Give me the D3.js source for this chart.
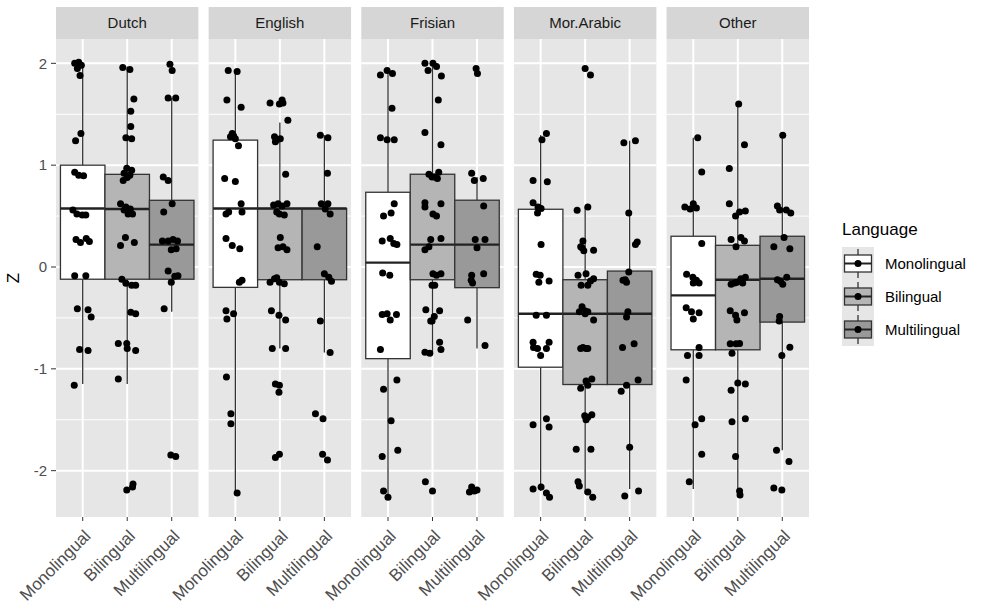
<!DOCTYPE html>
<html>
<head>
<meta charset="utf-8">
<script src="https://cdn.jsdelivr.net/npm/d3@7"></script>
<style>
  html, body { margin: 0; padding: 0; background: #fff; }
  svg { display: block; font-family: Arial, "Liberation Sans", sans-serif; }
</style>
</head>
<body>
<svg id="chart" width="985" height="605"></svg>
<script>
// ---------- DATA ----------
const languages = ["Dutch", "English", "Frisian", "Mor.Arabic", "Other"];
const groups = ["Monolingual", "Bilingual", "Multilingual"];
const groupFills = ["#ffffff", "#b5b5b5", "#999999"];
const yTicks = [-2, -1, 0, 1, 2];
const yMinor = [-1.5, -0.5, 0.5, 1.5];

// box statistics per language (rows) and group (columns)
const boxLow    = [[-1.15, -1.15, -0.44], [-2.22, -0.80, -0.84], [-2.23, -0.84, -0.80], [-2.20, -2.23, -2.18], [-2.18, -2.22, -1.80]];
const boxQ1     = [[-0.12, -0.12, -0.12], [-0.20, -0.125, -0.125], [-0.90, -0.125, -0.203], [-0.984, -1.154, -1.154], [-0.813, -0.813, -0.541]];
const boxMedian = [[0.575, 0.57, 0.22], [0.574, 0.574, 0.574], [0.043, 0.22, 0.22], [-0.459, -0.459, -0.459], [-0.279, -0.125, -0.115]];
const boxQ3     = [[1.0, 0.91, 0.655], [1.246, 0.574, 0.574], [0.734, 0.911, 0.656], [0.567, -0.125, -0.04], [0.302, 0.213, 0.302]];
const boxHigh   = [[2.0, 1.97, 1.66], [1.93, 1.42, 1.295], [1.94, 2.0, 0.885], [1.295, 0.59, 1.24], [1.27, 1.6, 1.295]];

// observed points: [Z, jitter offset in category units]
const pointsDutch = [
  [[2.0,-0.18],[2.01,-0.09],[1.98,-0.03],[1.95,-0.12],[1.88,-0.06],[1.31,-0.04],[1.24,-0.16],[0.93,-0.18],[0.90,-0.09],[0.895,0.02],
   [0.56,-0.22],[0.52,-0.13],[0.51,-0.01],[0.51,0.07],[0.27,-0.15],[0.24,-0.05],[0.28,0.08],[0.25,0.15],[-0.085,-0.18],[-0.085,0.07],
   [-0.41,-0.12],[-0.42,0.12],[-0.49,0.19],[-0.81,-0.07],[-0.82,0.12],[-1.16,-0.19]],
  [[1.96,-0.10],[1.94,0.06],[1.65,0.15],[1.53,0.08],[1.38,0.08],[1.27,-0.03],[1.26,0.10],[0.97,-0.01],[0.95,0.10],[0.92,-0.07],
   [0.90,0.06],[0.88,0.0],[0.85,-0.09],[0.62,-0.15],[0.59,-0.03],[0.57,0.07],[0.56,-0.07],[0.52,0.02],[0.52,0.12],[0.21,-0.15],
   [0.29,-0.04],[0.24,0.16],[-0.12,-0.12],[-0.16,-0.03],[-0.18,0.10],[-0.18,0.19],[-0.445,0.08],[-0.46,0.19],[-0.75,-0.20],[-0.75,-0.01],
   [-0.80,0.0],[-0.82,0.19],[-1.10,-0.20],[-2.19,-0.01],[-2.16,0.12],[-2.13,0.13]],
  [[1.99,-0.04],[1.93,0.01],[1.66,-0.08],[1.66,0.09],[0.885,-0.19],[0.85,-0.08],[0.62,0.01],[0.54,-0.18],[0.256,-0.21],[0.256,-0.08],
   [0.27,0.03],[0.256,0.13],[0.18,0.10],[0.17,-0.01],[-0.04,-0.08],[-0.09,0.07],[-0.085,0.14],[-0.15,-0.01],[-0.41,-0.17],[-1.845,-0.02],[-1.86,0.09]]
];
const pointsEnglish = [
  [[1.93,-0.16],[1.92,0.04],[1.64,-0.19],[1.57,0.13],[1.31,-0.07],[1.29,-0.04],[1.28,-0.11],[1.26,0.0],[1.19,0.07],[0.87,-0.24],
   [0.84,0.0],[0.62,0.13],[0.54,0.15],[0.54,-0.15],[0.52,-0.21],[0.28,-0.21],[0.21,-0.07],[0.18,0.10],[-0.15,0.09],[-0.13,0.15],
   [-0.43,-0.21],[-0.46,-0.04],[-0.51,-0.19],[-1.08,-0.20],[-1.44,-0.10],[-1.54,-0.10],[-2.22,0.04]],
  [[1.61,-0.22],[1.60,-0.01],[1.64,0.05],[1.61,0.07],[1.44,0.18],[1.28,-0.12],[1.25,-0.07],[1.26,0.01],[1.23,-0.10],[0.91,0.13],
   [0.61,-0.14],[0.62,-0.04],[0.60,0.05],[0.62,0.16],[0.52,-0.01],[0.54,-0.07],[0.51,0.10],[0.29,0.01],[0.19,-0.04],[0.20,0.07],
   [0.17,0.16],[-0.15,-0.22],[-0.115,-0.12],[-0.15,-0.01],[-0.165,0.10],[-0.105,-0.07],[-0.43,-0.19],[-0.475,-0.02],[-0.52,0.13],[-0.80,-0.17],
   [-0.80,0.13],[-1.15,-0.10],[-1.16,-0.01],[-1.23,-0.02],[-1.87,-0.10],[-1.84,-0.01]],
  [[1.295,-0.09],[1.27,0.08],[0.92,0.07],[0.62,-0.07],[0.62,0.08],[0.57,0.02],[0.52,0.13],[0.20,-0.16],[-0.066,0.0],[-0.10,0.10],
   [-0.14,0.16],[-0.53,-0.09],[-0.84,0.13],[-1.44,-0.20],[-1.49,-0.03],[-1.84,-0.04],[-1.895,0.07]]
];
const pointsFrisian = [
  [[1.885,-0.17],[1.93,-0.02],[1.90,0.10],[1.56,0.09],[1.27,-0.17],[1.25,-0.02],[1.25,0.14],[0.62,0.14],[0.53,0.07],[0.50,-0.10],
   [0.256,-0.13],[0.28,0.05],[0.22,0.20],[0.23,0.13],[-0.06,-0.12],[-0.08,0.04],[-0.466,-0.13],[-0.46,-0.02],[-0.52,0.05],[-0.466,0.19],
   [-0.81,-0.17],[-1.11,0.20],[-1.20,-0.10],[-1.51,0.07],[-1.86,-0.13],[-1.80,0.22],[-2.20,-0.10],[-2.26,0.0]],
  [[2.0,-0.17],[1.93,-0.10],[2.0,0.01],[1.97,0.09],[1.875,0.20],[1.64,0.13],[1.32,-0.17],[1.20,0.19],[0.91,-0.08],[0.885,0.05],
   [0.93,0.14],[0.87,0.11],[0.885,-0.01],[0.63,-0.17],[0.59,-0.17],[0.62,0.19],[0.52,0.01],[0.50,0.09],[0.27,-0.04],[0.28,0.19],
   [0.17,-0.17],[0.20,-0.08],[-0.066,0.01],[-0.066,0.19],[-0.08,0.09],[-0.18,0.05],[-0.18,-0.01],[-0.42,-0.15],[-0.43,0.16],[-0.485,0.04],
   [-0.53,-0.01],[-0.53,-0.04],[-0.74,0.16],[-0.81,0.19],[-0.836,-0.17],[-0.846,-0.06],[-2.11,-0.16],[-2.20,0.0]],
  [[1.95,-0.02],[1.90,0.01],[0.92,-0.12],[0.85,-0.06],[0.87,0.14],[0.60,0.15],[0.27,-0.04],[0.27,0.18],[0.19,0.0],[-0.08,-0.12],
   [-0.066,0.15],[-0.13,-0.13],[-0.157,-0.10],[-0.52,-0.21],[-0.77,0.18],[-2.16,-0.12],[-2.20,-0.06],[-2.19,0.0],[-2.21,-0.17]]
];
const pointsMorArabic = [
  [[1.31,0.13],[1.25,0.03],[0.85,-0.17],[0.836,0.15],[0.63,-0.17],[0.59,-0.06],[0.574,0.01],[0.53,-0.07],[0.22,0.01],[-0.07,-0.10],
   [-0.08,-0.01],[-0.15,-0.04],[-0.138,0.19],[-0.475,-0.10],[-0.475,0.13],[-0.74,-0.17],[-0.80,-0.07],[-0.74,0.19],[-0.80,0.13],[-0.87,0.0],
   [-0.79,-0.16],[-1.49,0.13],[-1.55,-0.17],[-1.57,0.19],[-2.18,-0.17],[-2.16,0.01],[-2.22,0.13],[-2.26,0.20]],
  [[1.95,0.0],[1.885,0.12],[0.59,0.06],[0.557,-0.18],[0.256,-0.05],[0.20,-0.10],[0.16,-0.03],[0.164,0.19],[0.19,-0.07],[-0.08,-0.16],
   [-0.066,0.02],[-0.115,0.19],[-0.18,-0.09],[-0.18,0.06],[-0.138,0.12],[-0.39,-0.07],[-0.43,-0.01],[-0.44,0.06],[-0.52,0.19],[-0.44,-0.13],
   [-0.46,0.0],[-0.80,-0.10],[-0.79,-0.05],[-0.80,0.02],[-0.80,0.06],[-1.10,0.15],[-1.12,0.02],[-1.19,-0.10],[-1.16,0.06],[-1.46,-0.01],
   [-1.475,0.06],[-1.45,0.15],[-1.50,0.02],[-1.79,-0.20],[-1.79,0.13],[-2.11,-0.16],[-2.15,-0.13],[-2.21,0.06],[-2.26,0.17]],
  [[1.22,-0.13],[1.24,0.13],[0.53,-0.02],[0.246,0.17],[0.22,0.13],[-0.05,-0.02],[-0.13,-0.15],[-0.15,-0.07],[-0.125,-0.10],[-0.44,-0.04],
   [-0.49,-0.07],[-0.79,-0.16],[-0.754,0.10],[-1.11,0.19],[-1.16,-0.07],[-1.22,-0.19],[-1.77,0.0],[-2.25,-0.11],[-2.20,0.20]]
];
const pointsOther = [
  [[1.27,0.10],[0.934,0.19],[0.59,-0.19],[0.62,0.0],[0.58,0.07],[0.57,-0.07],[0.23,0.19],[-0.07,-0.15],[-0.10,-0.01],[-0.13,0.07],
   [-0.157,0.13],[-0.157,0.0],[-0.40,-0.16],[-0.44,-0.04],[-0.45,0.13],[-0.51,0.0],[-0.79,0.13],[-0.87,-0.13],[-0.87,0.13],[-1.11,-0.16],
   [-1.49,0.19],[-1.55,0.04],[-1.84,0.19],[-2.11,-0.09]],
  [[1.60,0.02],[1.20,0.15],[0.967,-0.19],[0.62,-0.19],[0.54,0.04],[0.55,0.17],[0.50,-0.05],[0.27,-0.15],[0.29,0.07],[0.256,0.15],
   [0.20,-0.04],[-0.17,-0.15],[-0.15,-0.02],[-0.115,0.07],[-0.10,0.17],[-0.157,-0.07],[-0.157,0.11],[-0.43,-0.17],[-0.475,-0.05],[-0.45,0.15],
   [-0.52,-0.02],[-0.754,-0.17],[-0.754,-0.04],[-0.75,0.04],[-0.846,-0.13],[-1.14,0.0],[-1.15,0.17],[-1.21,-0.15],[-1.49,0.17],[-1.52,-0.13],
   [-1.86,-0.05],[-2.20,0.04],[-2.24,0.05]],
  [[1.295,0.01],[0.60,-0.11],[0.56,-0.06],[0.56,0.09],[0.53,0.19],[0.29,0.04],[0.20,-0.19],[0.18,0.17],[-0.125,-0.11],[-0.17,0.01],
   [-0.10,0.10],[-0.14,-0.04],[-0.485,-0.06],[-0.53,-0.07],[-0.787,0.17],[-0.87,-0.01],[-1.80,-0.13],[-1.91,0.15],[-2.17,-0.19],[-2.19,-0.01]]
];
const pointsByLanguage = [pointsDutch, pointsEnglish, pointsFrisian, pointsMorArabic, pointsOther];

// ---------- LAYOUT ----------
const svg = d3.select("#chart");
svg.append("rect").attr("width", 985).attr("height", 605).attr("fill", "#fff");

const plotTop = 39, plotBottom = 517, stripTop = 7;
const panelBand = d3.scaleBand().domain(languages).range([56, 809]).paddingInner(0.067);
const y = d3.scaleLinear().domain([-2.455, 2.239]).range([plotBottom, plotTop]);

const panelBg = "#e6e6e6", stripBg = "#d6d6d6", boxStroke = "#333333";

languages.forEach((lang, li) => {
  const x0 = panelBand(lang), w = panelBand.bandwidth();
  const x = d3.scaleLinear().domain([0.4, 3.6]).range([x0, x0 + w]);
  const g = svg.append("g");

  // strip
  g.append("rect").attr("x", x0).attr("y", stripTop).attr("width", w).attr("height", plotTop - stripTop).attr("fill", stripBg);
  g.append("text").attr("x", x0 + w / 2).attr("y", (stripTop + plotTop) / 2).attr("dy", "0.35em")
    .attr("text-anchor", "middle").attr("font-size", 15).attr("fill", "#1a1a1a").text(lang);

  // panel
  g.append("rect").attr("x", x0).attr("y", plotTop).attr("width", w).attr("height", plotBottom - plotTop).attr("fill", panelBg);
  g.selectAll(".minor").data(yMinor).join("line")
    .attr("x1", x0).attr("x2", x0 + w).attr("y1", d => y(d)).attr("y2", d => y(d))
    .attr("stroke", "#fff").attr("stroke-width", 1);
  g.selectAll(".major").data(yTicks).join("line")
    .attr("x1", x0).attr("x2", x0 + w).attr("y1", d => y(d)).attr("y2", d => y(d))
    .attr("stroke", "#fff").attr("stroke-width", 2);
  g.selectAll(".vmajor").data(groups).join("line")
    .attr("x1", (d, i) => x(i + 1)).attr("x2", (d, i) => x(i + 1)).attr("y1", plotTop).attr("y2", plotBottom)
    .attr("stroke", "#fff").attr("stroke-width", 2);

  // boxplots
  const half = (x(1.5) - x(1));
  groups.forEach((grp, gi) => {
    const cx = x(gi + 1);
    const bg = g.append("g");
    bg.append("line").attr("x1", cx).attr("x2", cx).attr("y1", y(boxQ3[li][gi])).attr("y2", y(boxHigh[li][gi]))
      .attr("stroke", boxStroke).attr("stroke-width", 1.3);
    bg.append("line").attr("x1", cx).attr("x2", cx).attr("y1", y(boxQ1[li][gi])).attr("y2", y(boxLow[li][gi]))
      .attr("stroke", boxStroke).attr("stroke-width", 1.3);
    bg.append("rect").attr("x", cx - half).attr("width", 2 * half)
      .attr("y", y(boxQ3[li][gi])).attr("height", Math.max(0, y(boxQ1[li][gi]) - y(boxQ3[li][gi])))
      .attr("fill", groupFills[gi]).attr("stroke", boxStroke).attr("stroke-width", 1.3);
    bg.append("line").attr("x1", cx - half).attr("x2", cx + half)
      .attr("y1", y(boxMedian[li][gi])).attr("y2", y(boxMedian[li][gi]))
      .attr("stroke", "#222").attr("stroke-width", 2.4);
  });
  // points
  groups.forEach((grp, gi) => {
    g.append("g").selectAll("circle").data(pointsByLanguage[li][gi]).join("circle")
      .attr("cx", d => x(gi + 1 + d[1])).attr("cy", d => y(d[0])).attr("r", 3.5).attr("fill", "#000");
  });

  // x axis ticks and labels
  groups.forEach((grp, gi) => {
    const cx = x(gi + 1);
    g.append("line").attr("x1", cx).attr("x2", cx).attr("y1", plotBottom).attr("y2", plotBottom + 4)
      .attr("stroke", "#333").attr("stroke-width", 1);
    g.append("text").attr("transform", `translate(${cx + 9},${plotBottom + 20}) rotate(-45)`)
      .attr("text-anchor", "end").attr("font-size", 17).attr("fill", "#4d4d4d").text(grp);
  });
});

// y axis
const ya = svg.append("g");
yTicks.forEach(t => {
  ya.append("line").attr("x1", 51).attr("x2", 56).attr("y1", y(t)).attr("y2", y(t)).attr("stroke", "#333").attr("stroke-width", 1);
  ya.append("text").attr("x", 47).attr("y", y(t)).attr("dy", "0.35em").attr("text-anchor", "end")
    .attr("font-size", 15).attr("fill", "#4d4d4d").text(t);
});
svg.append("text").attr("transform", `translate(19,${(plotTop + plotBottom) / 2}) rotate(-90)`)
  .attr("text-anchor", "middle").attr("font-size", 17).attr("fill", "#000").text("Z");

// legend
const lg = svg.append("g");
lg.append("text").attr("x", 842).attr("y", 235).attr("font-size", 17).attr("fill", "#000").text("Language");
const keyTop = 247, keyH = 33, keyX = 842, keyW = 32;
groups.forEach((grp, gi) => {
  const ky = keyTop + gi * keyH, cy = ky + keyH / 2, cx = keyX + keyW / 2;
  lg.append("rect").attr("x", keyX).attr("y", ky).attr("width", keyW).attr("height", keyH).attr("fill", panelBg);
  lg.append("line").attr("x1", cx).attr("x2", cx).attr("y1", ky + 2).attr("y2", ky + keyH - 2).attr("stroke", boxStroke).attr("stroke-width", 1.3);
  lg.append("rect").attr("x", keyX + 2.5).attr("y", cy - 8.5).attr("width", keyW - 5).attr("height", 17)
    .attr("fill", groupFills[gi]).attr("stroke", boxStroke).attr("stroke-width", 1.3);
  lg.append("line").attr("x1", keyX + 2.5).attr("x2", keyX + keyW - 2.5).attr("y1", cy).attr("y2", cy).attr("stroke", "#222").attr("stroke-width", 2);
  lg.append("circle").attr("cx", cx).attr("cy", cy).attr("r", 3.5).attr("fill", "#000");
  lg.append("text").attr("x", 885).attr("y", cy).attr("dy", "0.35em").attr("font-size", 15).attr("fill", "#000").text(grp);
});
</script>
</body>
</html>
